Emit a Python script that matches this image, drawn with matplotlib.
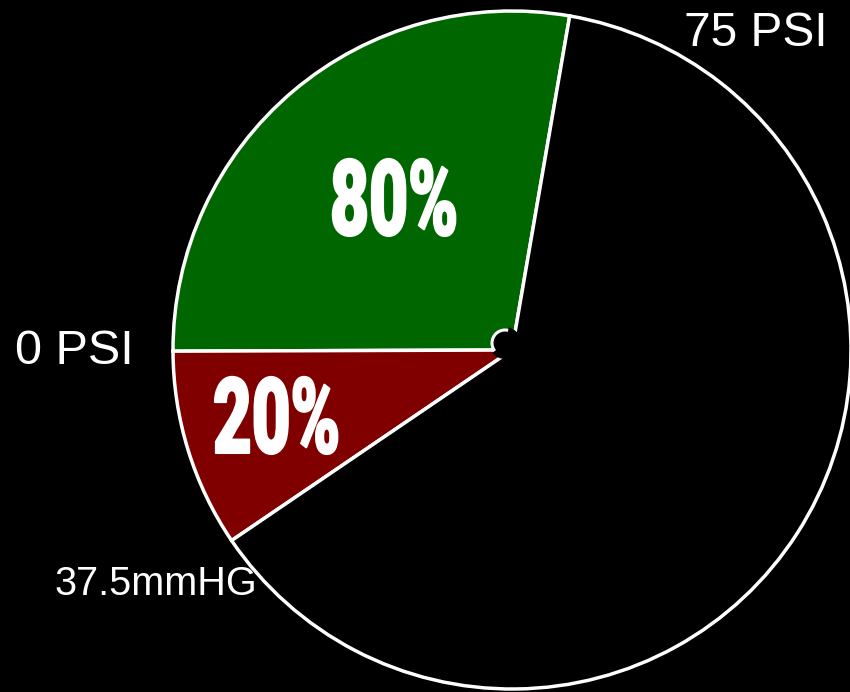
import matplotlib.pyplot as plt
from matplotlib.patches import Circle, Wedge
from matplotlib.patheffects import AbstractPathEffect
from matplotlib.transforms import Affine2D

# slice sizes in degrees of the dial (green, red, black)
labels = ['80%', '20%', '']
sizes = [100, 34, 226]
colors = ['#006600', '#800000', '#000000']
start = 80.2


class Squeeze(AbstractPathEffect):
    # narrow the glyphs horizontally (condensed headline look)
    def __init__(self, sx=1.0, lw=0.0):
        super().__init__()
        self.sx = sx
        self.lw = lw

    def draw_path(self, renderer, gc, tpath, affine, rgbFace=None):
        aff = Affine2D().scale(self.sx, 1) + affine
        gc0 = renderer.new_gc()
        gc0.copy_properties(gc)
        if self.lw:
            gc0.set_linewidth(self.lw)
            gc0.set_foreground(rgbFace)
        renderer.draw_path(gc0, tpath, aff, rgbFace)
        gc0.restore()


fig = plt.figure(figsize=(8.5, 6.92), dpi=100, facecolor='black')
ax = fig.add_axes([0, 0, 1, 1])
ax.set_facecolor('black')

cx, cy, R = 512, 342, 339
ax.pie(sizes, colors=colors, startangle=start, counterclock=True,
       center=(cx, cy), radius=R,
       wedgeprops=dict(edgecolor='white', linewidth=2.5))

# little hub in the middle
hub = Circle((505, 349), 13, facecolor='black', edgecolor='white', lw=2.2, zorder=5)
ax.add_patch(hub)
ax.add_patch(Wedge((505, 349), 16, 218, 76, facecolor='black', edgecolor='none', zorder=6))

ax.set_xlim(0, 850)
ax.set_ylim(0, 692)
ax.set_aspect('auto')
ax.axis('off')

big = dict(color='white', fontweight='black', ha='left', va='baseline',
           family=['Roboto', 'DejaVu Sans'], fontsize=76)
t1 = ax.text(330, 457, labels[0], **big)
t2 = ax.text(213, 239, labels[1], **big)

fig.canvas.draw()
for t, w in [(t1, 128), (t2, 127)]:
    bb = t.get_window_extent()
    t.set_path_effects([Squeeze(w / bb.width, lw=1.5)])

small = dict(color='white', ha='center', va='center', family=['Liberation Sans', 'DejaVu Sans'])
ax.text(756, 659, '75 PSI', fontsize=34.5, **small)
ax.text(74, 340, '0 PSI', fontsize=35, **small)
ax.text(156, 108, '37.5mmHG', fontsize=28.5, **small)

fig.savefig('out.png', dpi=100, facecolor='black')
